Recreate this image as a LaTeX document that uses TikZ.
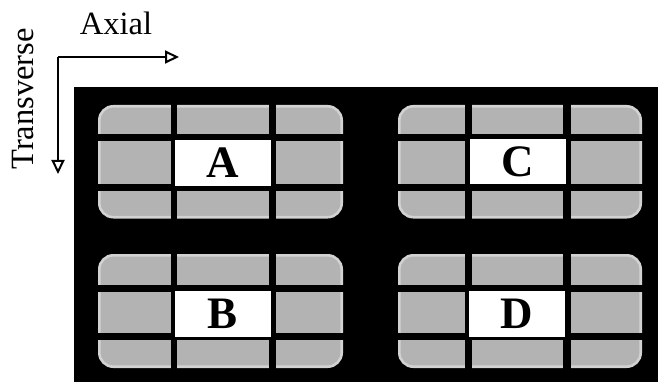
\documentclass[tikz,border=0pt]{standalone}
\usepackage{fontspec}
\setmainfont{Liberation Serif}
\usetikzlibrary{arrows.meta}
\definecolor{cellgray}{HTML}{B3B3B3}
\definecolor{rimgray}{HTML}{D2D2D2}
\tikzset{
  axisline/.style={line width=2.4pt,-{Triangle[open,length=14pt,width=13pt,line width=2pt]}},
  axislabel/.style={font=\fontsize{32.5}{36}\selectfont,inner sep=0pt},
  modbody/.style={fill=cellgray,draw=rimgray,line width=2.6pt,rounded corners=14pt},
  gap/.style={fill=black},
  cellbox/.style={fill=white,inner sep=0pt,minimum width=96pt,minimum height=46pt,font=\fontsize{45}{48}\selectfont\bfseries}
}
\begin{document}
\begin{tikzpicture}[x=1pt,y=-1pt]
\useasboundingbox (0,0) rectangle (658,382);
\fill[white] (0,0) rectangle (658,382);
\fill[black] (74,87) rectangle (658,382);
% module bodies with black gaps
\foreach \xo/\xi/\xii/\xiii/\xiv/\xv in {98/171/177/269/276/343, 398/465/472/563/571/642}{
  \foreach \yo/\yi/\yii/\yiii/\yiv/\yv in {105/134.5/141/184/191/218.5, 254/285/292/333/340/368}{
    \draw[modbody] (\xo+1.3,\yo+1.3) rectangle (\xv-1.3,\yv-1.3);
    \fill[gap] (\xi,\yo-3) rectangle (\xii,\yv+3);
    \fill[gap] (\xiii,\yo-3) rectangle (\xiv,\yv+3);
    \fill[gap] (\xo-3,\yi) rectangle (\xv+3,\yii);
    \fill[gap] (\xo-3,\yiii) rectangle (\xv+3,\yiv);
  }
}
\node[cellbox] (A) at (223,163) {A};
\node[cellbox] (B) at (223,314) {B};
\node[cellbox,minimum height=45pt] (C) at (518,162) {C};
\node[cellbox] (D) at (517,314) {D};
% axes
\coordinate (o) at (58,57);
\coordinate (ax) at (179,57);
\coordinate (tr) at (58,174);
\draw[axisline] (o) -- (ax);
\draw[axisline] (o) -- (tr);
\node[axislabel,anchor=base] (axial) at (116,35) {Axial};
\node[axislabel,anchor=base,rotate=90] (transverse) at (33,99) {Transverse};
\end{tikzpicture}
\end{document}
